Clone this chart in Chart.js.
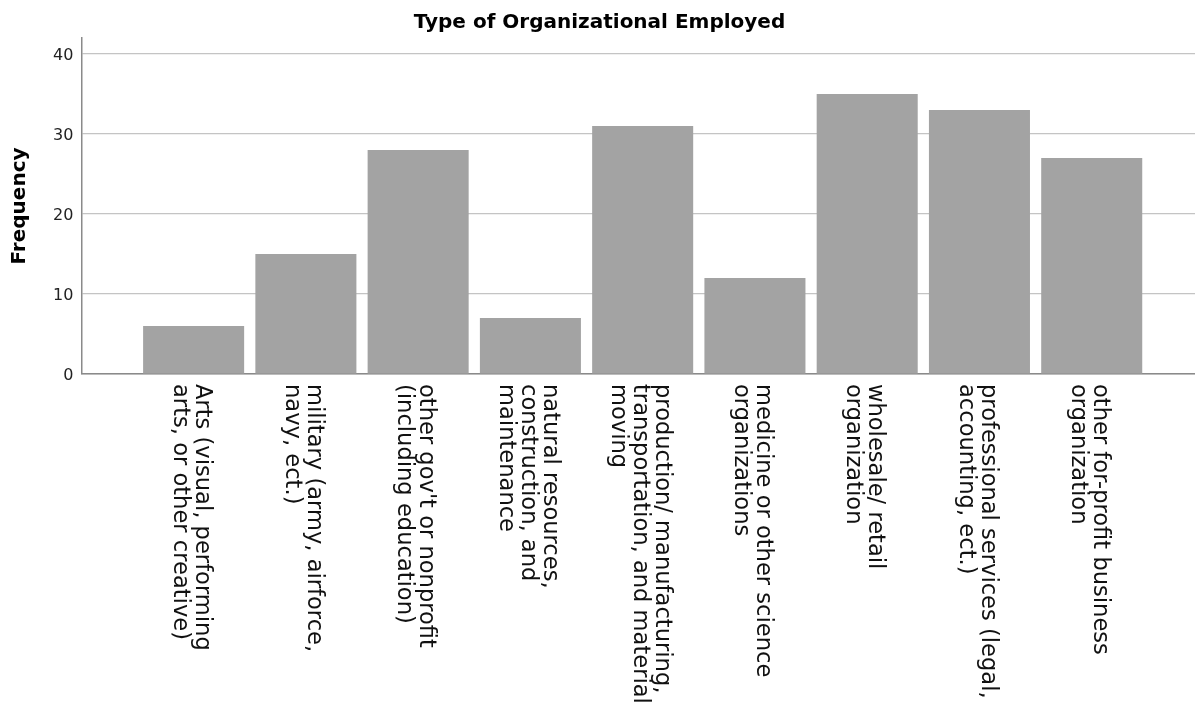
<!DOCTYPE html>
<html>
<head>
<meta charset="utf-8">
<script src="https://cdn.jsdelivr.net/npm/chart.js@4/dist/chart.umd.min.js"></script>
<style>
  html, body { margin: 0; padding: 0; background: #ffffff; }
  #wrap { width: 1195px; height: 702px; }
</style>
</head>
<body>
<div id="wrap"><canvas id="c" width="1195" height="702"></canvas></div>
<script>
// ---- data ----
const chartTitle = "Type of Organizational Employed";
const yAxisTitle = "Frequency";
const categories = [
  ["Arts (visual, performing", "arts, or other creative)"],
  ["military (army, airforce,", "navy, ect.)"],
  ["other gov't or nonprofit", "(including education)"],
  ["natural resources,", "construction, and", "maintenance"],
  ["production/ manufacturing,", "transportation, and material", "moving"],
  ["medicine or other science", "organizations"],
  ["wholesale/ retail", "organization"],
  ["professional services (legal,", "accounting, ect.)"],
  ["other for-profit business", "organization"]
];
const frequencies = [6, 15, 28, 7, 31, 12, 35, 33, 27];
const yTicks = [0, 10, 20, 30, 40];

// ---- rotated multi-line category labels (clockwise), placed by the x scale ----
const categoryLabels = {
  id: 'categoryLabels',
  afterDraw(chart) {
    const ctx = chart.ctx;
    const xs = chart.scales.x, ys = chart.scales.y;
    const lh = 22;
    ctx.save();
    ctx.font = '22.6px "DejaVu Sans"';
    ctx.fillStyle = '#111111';
    ctx.textAlign = 'left';
    ctx.textBaseline = 'middle';
    categories.forEach((lines, i) => {
      const cx = xs.getPixelForValue(i) - 3;
      const top = ys.getPixelForValue(0) + 10;
      ctx.save();
      ctx.translate(cx, top);
      ctx.rotate(Math.PI / 2);
      const n = lines.length;
      lines.forEach((t, k) => {
        ctx.fillText(t, 0, (k - (n - 1) / 2) * lh);
      });
      ctx.restore();
    });
    ctx.restore();
  }
};

new Chart(document.getElementById('c'), {
  type: 'bar',
  data: {
    datasets: [{
      data: frequencies.map((v, i) => ({ x: i, y: v })),
      backgroundColor: '#a3a3a3',
      borderWidth: 0,
      categoryPercentage: 1.0,
      barPercentage: 0.9
    }]
  },
  options: {
    responsive: false,
    animation: false,
    devicePixelRatio: 1,
    layout: { padding: { left: 4, right: 0, top: 0, bottom: 328 } },
    plugins: {
      legend: { display: false },
      tooltip: { enabled: false },
      title: {
        display: true,
        text: chartTitle,
        color: '#000000',
        font: { family: '"DejaVu Sans"', size: 20, weight: 'bold' },
        padding: { top: 11, bottom: 3 }
      }
    },
    scales: {
      x: {
        type: 'linear',
        offset: false,
        min: -1,
        max: 8.92,
        ticks: { display: false, stepSize: 1, includeBounds: false },
        grid: { display: false, drawTicks: false, offset: false },
        border: { display: true, color: '#8a8a8a', width: 1.5 }
      },
      y: {
        min: 0,
        max: 42,
        afterBuildTicks: (scale) => { scale.ticks = yTicks.map(v => ({ value: v })); },
        ticks: {
          color: '#222222',
          font: { family: '"DejaVu Sans"', size: 16 },
          padding: 8,
          labelOffset: 2
        },
        grid: { color: '#c4c4c4', lineWidth: 1.2, drawTicks: false },
        border: { display: true, color: '#8a8a8a', width: 1.5 },
        title: {
          display: true,
          text: yAxisTitle,
          color: '#000000',
          font: { family: '"DejaVu Sans"', size: 20, weight: 'bold' },
          padding: { top: 4, bottom: 13 }
        }
      }
    }
  },
  plugins: [categoryLabels]
});
</script>
</body>
</html>
